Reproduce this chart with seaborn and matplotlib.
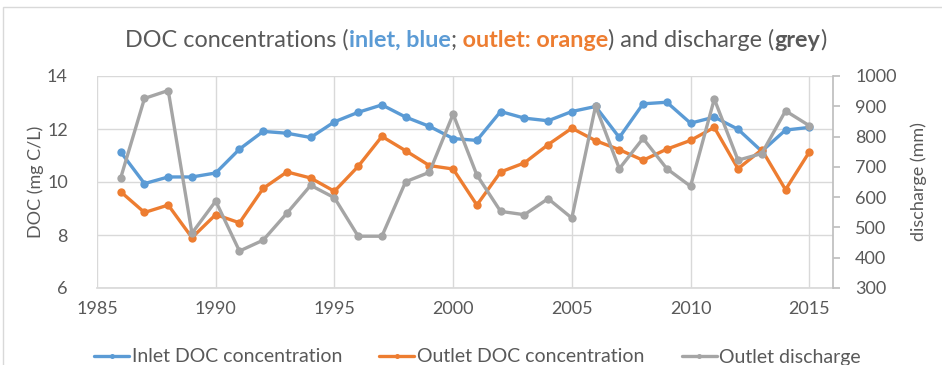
import numpy as np
import pandas as pd
import matplotlib
matplotlib.use('Agg')
import matplotlib.pyplot as plt
import seaborn as sns
from matplotlib.offsetbox import TextArea, HPacker, AnchoredOffsetbox
from matplotlib.patches import Rectangle

years = list(range(1986, 2016))
inlet_doc = [11.13, 9.94, 10.19, 10.19, 10.34, 11.24, 11.91, 11.84, 11.68, 12.27,
             12.63, 12.91, 12.45, 12.10, 11.64, 11.57, 12.66, 12.41, 12.31, 12.66,
             12.85, 11.68, 12.95, 13.01, 12.22, 12.45, 11.99, 11.16, 11.96, 12.06]
outlet_doc = [9.63, 8.85, 9.13, 7.90, 8.77, 8.46, 9.76, 10.38, 10.15, 9.65,
              10.59, 11.72, 11.18, 10.62, 10.49, 9.13, 10.38, 10.72, 11.41, 12.03,
              11.56, 11.22, 10.82, 11.24, 11.57, 12.06, 10.50, 11.22, 9.71, 11.13]
outlet_discharge = [664, 926, 952, 481, 587, 422, 458, 547, 639, 598,
                    471, 471, 651, 682, 874, 673, 553, 542, 595, 531,
                    901, 694, 794, 694, 636, 924, 722, 744, 885, 836]

df = pd.DataFrame({'year': years, 'inlet': inlet_doc, 'outlet': outlet_doc,
                   'discharge': outlet_discharge})

blue = '#5B9BD5'
orange = '#ED7D31'
grey = '#A5A5A5'
txt = '#595959'
gridc = '#D9D9D9'

sns.set_theme(style='white')
plt.rcParams['font.family'] = ['Lato', 'DejaVu Sans']

fig = plt.figure(figsize=(9.42, 3.65), dpi=100)
ax = fig.add_axes([97/942, 1-288/365, (833-97)/942, (288-76)/365])
ax2 = ax.twinx()

kw = dict(marker='o', markersize=6, linewidth=2.4, markeredgewidth=0)
sns.lineplot(data=df, x='year', y='inlet', ax=ax, color=blue, label='Inlet DOC concentration', **kw)
sns.lineplot(data=df, x='year', y='outlet', ax=ax, color=orange, label='Outlet DOC concentration', **kw)
sns.lineplot(data=df, x='year', y='discharge', ax=ax2, color=grey, label='Outlet discharge', **kw)

h1, l1 = ax.get_legend_handles_labels()
h2, l2 = ax2.get_legend_handles_labels()
ax.get_legend().remove()
ax2.get_legend().remove()

ax.set_xlim(1985, 2016)
ax.set_xticks(range(1985, 2016, 5))
ax.set_ylim(6, 14)
ax.set_yticks(range(6, 15, 2))
ax2.set_ylim(300, 1000)
ax2.set_yticks(range(300, 1001, 100))

ax.grid(True, color=gridc, linewidth=1)
ax2.grid(False)
ax.set_axisbelow(True)
for s in ['top', 'right', 'left']:
    ax.spines[s].set_visible(False)
    ax2.spines[s].set_visible(False)
ax.spines['bottom'].set_color(gridc)
ax2.spines['bottom'].set_visible(False)
ax2.spines['right'].set_visible(True)
ax2.spines['right'].set_color('#BFBFBF')

ax.tick_params(axis='y', length=0, labelsize=13, labelcolor=txt, pad=21)
ax.tick_params(axis='x', length=0, labelsize=13, labelcolor=txt, pad=9)
ax2.tick_params(axis='y', length=5, color='#BFBFBF', labelsize=13, labelcolor=txt, pad=11, direction='out', right=True)

ax.set_xlabel('')
ax.set_ylabel('DOC (mg C/L)', fontsize=13, color=txt, labelpad=2)
ax2.set_ylabel('discharge (mm)', fontsize=13, color=txt, labelpad=10)

fig.legend(h1 + h2, l1 + l2, loc='center', bbox_to_anchor=(0.507, 1-357/365),
           ncol=3, frameon=False, fontsize=14, handlelength=1.8, handletextpad=0.15,
           columnspacing=1.9, labelcolor=txt, markerscale=0.6)

# multi-colour title
parts = [('DOC concentrations (', txt, 'normal'), ('inlet, blue', blue, 'bold'),
         (';', txt, 'normal'), (' outlet: orange', orange, 'bold'),
         (') and discharge (', txt, 'normal'), ('grey', txt, 'bold'), (')', txt, 'normal')]
areas = [TextArea(t, textprops=dict(color=c, fontsize=16.8, fontweight=w)) for t, c, w in parts]
box = HPacker(children=areas, align='baseline', pad=0, sep=0)
anchored = AnchoredOffsetbox(loc='center', child=box, frameon=False,
                             bbox_to_anchor=(0.505, 1-40/365), bbox_transform=fig.transFigure)
fig.add_artist(anchored)

fig.add_artist(Rectangle((3/942, -0.1), 1.1, 1-7/365+0.1, transform=fig.transFigure,
                         fill=False, edgecolor=gridc, linewidth=1))

fig.savefig('out.png', dpi=100)
